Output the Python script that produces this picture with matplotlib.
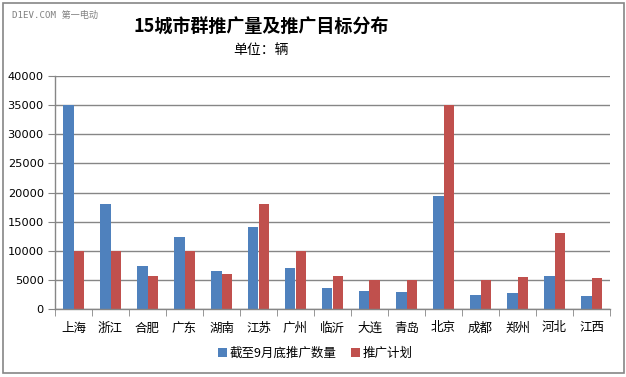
import matplotlib.pyplot as plt
import numpy as np
from matplotlib.patches import Rectangle

plt.rcParams['font.family'] = ['Noto Sans CJK SC', 'DejaVu Sans']

cities = ['上海', '浙江', '合肥', '广东', '湖南', '江苏', '广州', '临沂',
          '大连', '青岛', '北京', '成都', '郑州', '河北', '江西']
sold = [35000, 18100, 7300, 12300, 6500, 14000, 7000, 3600,
        3100, 2900, 19400, 2400, 2700, 5600, 2200]
plan = [10000, 10000, 5600, 10000, 6000, 18000, 10000, 5600,
        5000, 5000, 35000, 5000, 5500, 13000, 5300]
yticks = [0, 5000, 10000, 15000, 20000, 25000, 30000, 35000, 40000]

blue = '#4F81BD'
red = '#C0504D'
grid = '#868686'

fig = plt.figure(figsize=(6.26, 3.77), dpi=100)
ax = fig.add_axes([55 / 626, 68 / 377, 555 / 626, 233 / 377])

x = np.arange(len(cities))
w = 1 / 3.5
ax.bar(x - w / 2, sold, width=w, color=blue, label='截至9月底推广数量')
ax.bar(x + w / 2, plan, width=w, color=red, label='推广计划')

ax.set_xlim(-0.5, len(cities) - 0.5)
ax.set_ylim(0, 40000)
ax.set_yticks(yticks)
ax.set_yticklabels([str(v) for v in yticks], fontsize=8.2, family='DejaVu Sans')
ax.yaxis.grid(True, color=grid, linewidth=1)
ax.set_axisbelow(True)

ax.set_xticks(x)
ax.set_xticklabels(cities, fontsize=9)
ax.set_xticks(np.arange(-0.5, len(cities)), minor=True)
ax.tick_params(axis='x', which='major', length=0, pad=9)
ax.tick_params(axis='x', which='minor', length=5, color=grid, direction='out')
ax.tick_params(axis='y', length=5, color=grid, pad=3)

for s in ['top', 'right']:
    ax.spines[s].set_visible(False)
for s in ['left', 'bottom']:
    ax.spines[s].set_color(grid)
    ax.spines[s].set_linewidth(1)

leg = fig.legend(loc='center', bbox_to_anchor=(315 / 626, 1 - 353 / 377),
                 ncol=2, frameon=False, fontsize=9, handlelength=0.7,
                 handleheight=0.7, handletextpad=0.2, columnspacing=1.2)

fig.text(261 / 626, 1 - 27 / 377, '15城市群推广量及推广目标分布',
         ha='center', va='center', fontsize=13, fontweight='bold')
fig.text(261 / 626, 1 - 50 / 377, '单位：辆', ha='center', va='center', fontsize=10)
fig.text(12 / 626, 1 - 15 / 377, 'D1EV.COM 第一电动', ha='left', va='center',
         fontsize=6.6, color='#808080',
         family=['DejaVu Sans Mono', 'Noto Sans CJK SC'])

# outer chart border
fig.patches.append(Rectangle((3 / 626, 4 / 377), 621 / 626, 370 / 377,
                             transform=fig.transFigure, fill=False,
                             edgecolor=grid, linewidth=1.2))

fig.savefig('out.png', dpi=100)
